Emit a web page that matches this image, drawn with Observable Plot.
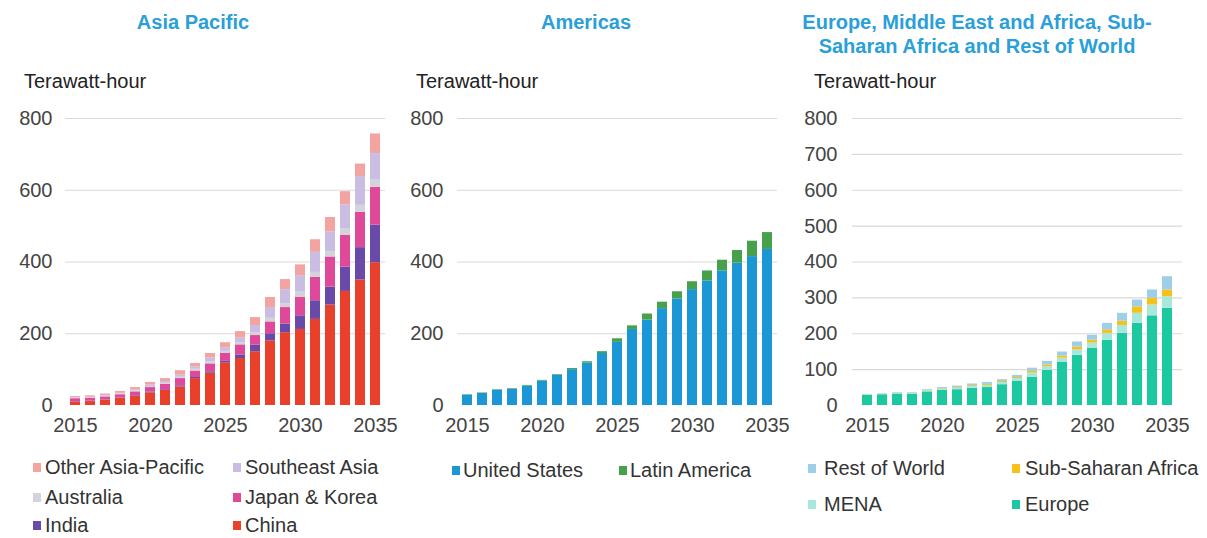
<!DOCTYPE html>
<html>
<head>
<meta charset="utf-8">
<script src="https://cdn.jsdelivr.net/npm/d3@7"></script>
<script src="https://cdn.jsdelivr.net/npm/@observablehq/plot@0.6"></script>
<style>
  html, body { margin: 0; padding: 0; background: #fff; }
  body { width: 1207px; height: 538px; position: relative; overflow: hidden; font-family: "Liberation Sans", Arial, sans-serif; }
  .title { position: absolute; color: #2a9fd8; font-weight: bold; font-size: 20px; text-align: center; line-height: 24px; }
  .unit { position: absolute; top: 70px; font-size: 20px; color: #222; }
  .panel { position: absolute; top: 100px; }
  .li { position: absolute; white-space: nowrap; font-size: 20px; color: #333; line-height: 24px; }
  .sw { position: absolute; width: 8px; height: 9px; top: 8px; left: 0; }
</style>
</head>
<body>
<div class="title" style="left:0;width:386px;top:10px;">Asia Pacific</div>
<div class="title" style="left:390px;width:392px;top:10px;">Americas</div>
<div class="title" style="left:772px;width:410px;top:10px;">Europe, Middle East and Africa, Sub-<br>Saharan Africa and Rest of World</div>
<div class="unit" style="left:24px;">Terawatt-hour</div>
<div class="unit" style="left:416px;">Terawatt-hour</div>
<div class="unit" style="left:814px;">Terawatt-hour</div>
<div class="panel" id="p1" style="left:0px;"></div>
<div class="panel" id="p2" style="left:395px;"></div>
<div class="panel" id="p3" style="left:790px;"></div>
<div id="legends"></div>
<script>
const years = [2015,2016,2017,2018,2019,2020,2021,2022,2023,2024,2025,2026,2027,2028,2029,2030,2031,2032,2033,2034,2035];
const yearTicks = [2015,2020,2025,2030,2035];

// Asia Pacific (TWh)
const china   = [10,11,15,20,25,35,42,52,75,90,118,131,150,180,203,212,240,280,318,350,398];
const india   = [1,1,1,1,2,2,2,3,3,4,5,10,18,20,24,38,52,50,68,90,105];
const japanKorea = [8,8,8,9,11,13,15,20,18,22,22,28,27,33,46,52,65,84,88,98,105];
const australia  = [2,2,2,2,3,3,3,4,5,6,6,6,8,10,10,14,14,15,18,20,22];
const southeastAsia = [1,1,2,2,3,4,5,6,6,10,10,13,20,30,40,46,56,55,67,80,72];
const otherAsiaPacific = [3,4,4,5,6,7,8,12,10,13,14,18,22,28,28,30,35,40,37,35,55];

// Americas (TWh)
const unitedStates = [29,34,43,46,54,68,84,100,118,145,176,212,238,270,297,323,347,375,397,415,435];
const latinAmerica = [1,1,1,1,2,2,2,3,4,5,10,10,17,18,20,22,28,30,35,43,47];

// EMEA & RoW (TWh)
const europe = [28,30,32,32,38,42,44,48,50,58,68,79,98,121,140,159,182,201,229,250,271];
const mena   = [1.3,1.3,1.7,1.7,2.5,3.4,4.2,5,6,6,7,11,10,11,15,15,19,22,28,30,32];
const subSaharanAfrica = [0.6,0.6,0.8,0.8,1.2,1.6,2,2.4,2.8,2.8,3,5,5,6,8,8,10,12,18,19,19];
const restOfWorld = [1.1,1.1,1.5,1.5,2.3,3,3.8,4.6,5.2,5.2,6,9,10,11,14,14,18,22,19,23,37];

const apSeries = ["China","India","Japan & Korea","Australia","Southeast Asia","Other Asia-Pacific"];
const apValues = [china, india, japanKorea, australia, southeastAsia, otherAsiaPacific];
const apColors = ["#e8402a","#6a4aa8","#e0489a","#d3d3db","#c9bde3","#f3a3a0"];

const amSeries = ["United States","Latin America"];
const amValues = [unitedStates, latinAmerica];
const amColors = ["#1b97d6","#46a04c"];

const emSeries = ["Europe","MENA","Sub-Saharan Africa","Rest of World"];
const emValues = [europe, mena, subSaharanAfrica, restOfWorld];
const emColors = ["#1cc8a0","#a8e8dc","#f5c21b","#9dcfe8"];

function table(series, values) {
  const rows = [];
  series.forEach((s, i) => years.forEach((y, j) => rows.push({series: s, year: y, value: values[i][j]})));
  return rows;
}

function chart(series, values, colors, opts) {
  const data = table(series, values);
  return Plot.plot({
    width: opts.width,
    height: 340,
    marginTop: 18,
    marginBottom: 35,
    marginLeft: opts.ml,
    marginRight: opts.mr,
    style: {fontFamily: '"Liberation Sans", Arial, sans-serif', fontSize: "20px", color: "#444", background: "transparent", overflow: "visible"},
    x: {type: "band", domain: years, padding: 0.33, ticks: yearTicks, tickFormat: d => String(d), tickSize: 0, tickPadding: 12, label: null},
    y: {domain: [0, 800], ticks: opts.yticks, tickSize: 0, tickPadding: opts.tp, label: null, tickFormat: d => String(d)},
    color: {domain: series, range: colors},
    marks: [
      Plot.ruleY(opts.yticks.filter(d => d > 0), {stroke: "#d9d9d9", strokeWidth: 1.2}),
      Plot.barY(data, {x: "year", y: "value", fill: "series", order: series})
    ]
  });
}

document.getElementById("p1").append(chart(apSeries, apValues, apColors, {width: 395, ml: 65, mr: 10, tp: 13, yticks: [0,200,400,600,800]}));
document.getElementById("p2").append(chart(amSeries, amValues, amColors, {width: 392, ml: 62, mr: 10, tp: 14, yticks: [0,200,400,600,800]}));
document.getElementById("p3").append(chart(emSeries, emValues, emColors, {width: 405, ml: 62, mr: 13, tp: 15, yticks: [0,100,200,300,400,500,600,700,800]}));

// Legends: x = swatch left, tx = text offset, y = row centre
const legendItems = [
  {name: "Other Asia-Pacific", x: 33, tx: 12, y: 467}, {name: "Southeast Asia", x: 233, tx: 12, y: 467},
  {name: "Australia", x: 33, tx: 12, y: 497}, {name: "Japan & Korea", x: 233, tx: 12, y: 497},
  {name: "India", x: 33, tx: 12, y: 525}, {name: "China", x: 233, tx: 12, y: 525},
  {name: "United States", x: 452, tx: 11, y: 470}, {name: "Latin America", x: 619, tx: 11, y: 470},
  {name: "Rest of World", x: 808, tx: 16, y: 468}, {name: "Sub-Saharan Africa", x: 1012, tx: 13, y: 468},
  {name: "MENA", x: 808, tx: 16, y: 504}, {name: "Europe", x: 1012, tx: 13, y: 504}
];
const colorOf = {};
apSeries.forEach((s, i) => colorOf[s] = apColors[i]);
amSeries.forEach((s, i) => colorOf[s] = amColors[i]);
emSeries.forEach((s, i) => colorOf[s] = emColors[i]);
const lg = document.getElementById("legends");
for (const it of legendItems) {
  const d = document.createElement("div");
  d.className = "li";
  d.style.left = it.x + "px";
  d.style.top = (it.y - 12) + "px";
  d.style.paddingLeft = it.tx + "px";
  d.innerHTML = `<span class="sw" style="background:${colorOf[it.name]}"></span>${it.name}`;
  lg.append(d);
}
</script>
</body>
</html>
